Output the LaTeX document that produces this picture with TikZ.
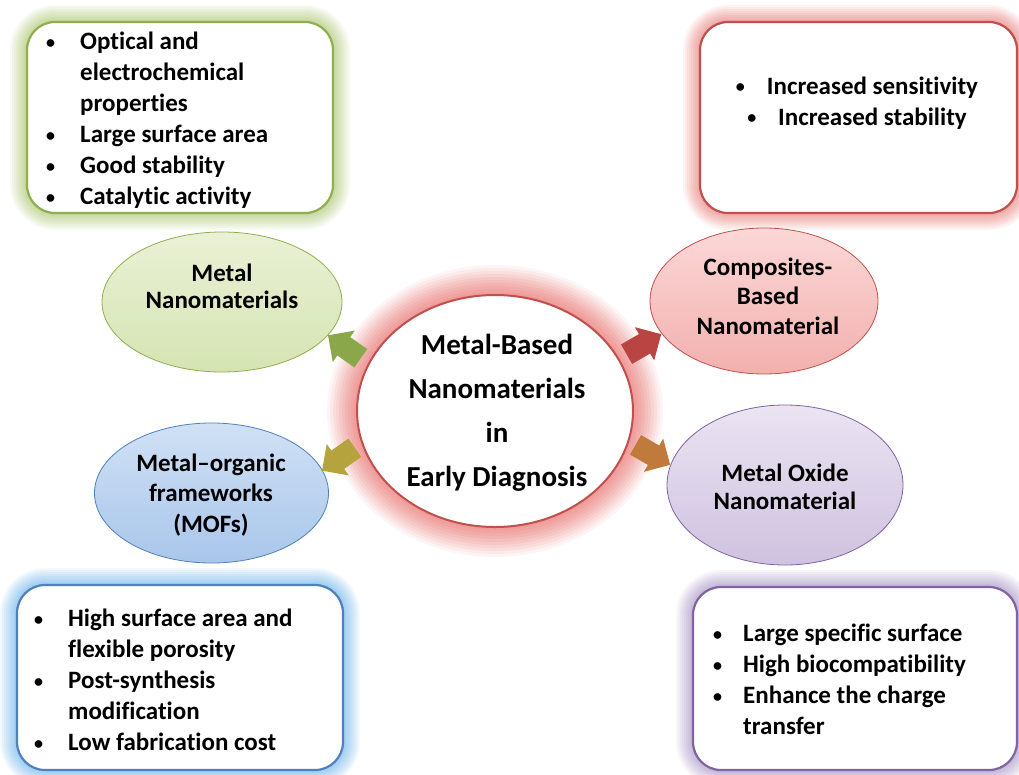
\documentclass[tikz,border=0pt]{standalone}
\usepackage{fontspec}
\setmainfont{Carlito}[Ligatures=NoCommon]
\usetikzlibrary{shapes.geometric,shapes.arrows}
\definecolor{grnB}{HTML}{8FAE4E}
\definecolor{grnG}{HTML}{B5CF80}
\definecolor{redB}{HTML}{C0504D}
\definecolor{redG}{HTML}{EE8A88}
\definecolor{bluB}{HTML}{4F81BD}
\definecolor{bluG}{HTML}{7DBDF0}
\definecolor{purB}{HTML}{8064A2}
\definecolor{purG}{HTML}{B3A0CF}
\definecolor{grnT}{HTML}{EAF1D5}
\definecolor{grnL}{HTML}{D5E4B3}
\definecolor{bluT}{HTML}{D0E1F5}
\definecolor{bluL}{HTML}{A9C6EA}
\definecolor{redT}{HTML}{FBD8D7}
\definecolor{redL}{HTML}{F2B0AE}
\definecolor{purT}{HTML}{EBE4F2}
\definecolor{purL}{HTML}{CFC2E0}
\definecolor{arGrn}{HTML}{8AA84A}
\definecolor{arOlv}{HTML}{B5A43E}
\definecolor{arRed}{HTML}{B94441}
\definecolor{arOrg}{HTML}{C07A3C}
\newcommand{\bul}[1]{\makebox[#1][l]{\raisebox{1.5pt}{\fontsize{18}{18}\selectfont•}}}
\newcommand{\cbul}{\raisebox{1.5pt}{\fontsize{18}{18}\selectfont•}}
\tikzset{
  glow/.style={
    preaction={draw=#1,line width=34,draw opacity=0.09},
    preaction={draw=#1,line width=30,draw opacity=0.1},
    preaction={draw=#1,line width=26,draw opacity=0.11},
    preaction={draw=#1,line width=22,draw opacity=0.12},
    preaction={draw=#1,line width=18,draw opacity=0.13},
    preaction={draw=#1,line width=14,draw opacity=0.14},
    preaction={draw=#1,line width=10,draw opacity=0.16},
    preaction={draw=#1,line width=6,draw opacity=0.2}},
  bigglow/.style={
    preaction={draw=#1,line width=60,draw opacity=0.08},
    preaction={draw=#1,line width=54,draw opacity=0.1},
    preaction={draw=#1,line width=48,draw opacity=0.12},
    preaction={draw=#1,line width=42,draw opacity=0.13},
    preaction={draw=#1,line width=36,draw opacity=0.15},
    preaction={draw=#1,line width=30,draw opacity=0.16},
    preaction={draw=#1,line width=24,draw opacity=0.18},
    preaction={draw=#1,line width=18,draw opacity=0.2},
    preaction={draw=#1,line width=12,draw opacity=0.22},
    preaction={draw=#1,line width=6,draw opacity=0.25}},
  infobox/.style 2 args={rectangle, rounded corners=28, draw=#1, line width=2.2,
    fill=white, glow=#2, inner sep=0},
  oval/.style n args={3}{ellipse, draw=#1, line width=0.8, top color=#2, bottom color=#3, inner sep=0},
  boxtxt/.style={font=\bfseries\fontsize{25}{31}\selectfont, inner sep=0, text=black},
  ovaltxt/.style={font=\bfseries\fontsize{25}{#1}\selectfont, align=center, inner sep=0, text=black},
  blockarrow/.style={single arrow, draw=none, fill=#1, minimum height=40, minimum width=38,
    text height=11, text depth=11, text width=0, inner sep=0, single arrow head extend=8}
}
\begin{document}
\begin{tikzpicture}[x=1pt,y=-1pt]
\useasboundingbox[fill=white] (0,0) rectangle (1019,774);

% boxes
\node[infobox={grnB}{grnG}, minimum width=306, minimum height=191] (boxTL) at (180,117.5) {};
\node[infobox={redB}{redG}, minimum width=317, minimum height=191] (boxTR) at (858.5,117.5) {};
\node[infobox={bluB}{bluG}, minimum width=326, minimum height=185] (boxBL) at (180,677.5) {};
\node[infobox={purB}{purG}, minimum width=324, minimum height=183] (boxBR) at (855,678.5) {};

\node[boxtxt, align=left, anchor=west] (tTL) at (46,120.5)
  {\bul{34pt}Optical and\\ \hspace*{34pt}electrochemical\\ \hspace*{34pt}properties\\
   \bul{34pt}Large surface area\\ \bul{34pt}Good stability\\ \bul{34pt}Catalytic activity};
\node[boxtxt, align=center] (tTR) at (857,103)
  {\cbul\hspace{22pt}Increased sensitivity\\ \cbul\hspace{22pt}Increased stability};
\node[boxtxt, align=left, anchor=west] (tBL) at (34,680)
  {\bul{34pt}High surface area and\\ \hspace*{34pt}flexible porosity\\
   \bul{34pt}Post-synthesis\\ \hspace*{34pt}modification\\ \bul{34pt}Low fabrication cost};
\node[boxtxt, align=left, anchor=west] (tBR) at (713,679.5)
  {\bul{30pt}Large specific surface\\ \bul{30pt}High biocompatibility\\
   \bul{30pt}Enhance the charge\\ \hspace*{30pt}transfer};

% ovals
\node[oval={grnB}{grnT}{grnL}, minimum width=240, minimum height=140] (oMetal) at (222,302) {};
\node[oval={bluB}{bluT}{bluL}, minimum width=234, minimum height=140] (oMOF) at (211.5,493) {};
\node[oval={redB}{redT}{redL}, minimum width=228, minimum height=146] (oComp) at (764,301) {};
\node[oval={purB}{purT}{purL}, minimum width=236, minimum height=160] (oOxide) at (785,485) {};

\node[ovaltxt=27] (lMetal) at (222,286) {Metal\\Nanomaterials};
\node[ovaltxt=30.5] (lMOF) at (211,495) {Metal–organic\\frameworks\\(MOFs)};
\node[ovaltxt=29.5] (lComp) at (768,296) {Composites-\\Based\\Nanomaterial};
\node[ovaltxt=28] (lOxide) at (785,486.5) {Metal Oxide\\Nanomaterial};

% centre
\node[ellipse, draw=redB, line width=2, fill=white, bigglow=redG,
  minimum width=276, minimum height=232, inner sep=0] (center) at (495,411) {};
\node[font=\bfseries\fontsize{29}{44}\selectfont, align=center, inner sep=0] (lCenter) at (497,412.5)
  {Metal-Based\\Nanomaterials\\in\\Early Diagnosis};

% arrows
\node[blockarrow=arGrn, rotate=145] (aMetal) at (349,350) {};
\node[blockarrow=arOlv, rotate=215] (aMOF) at (343,456) {};
\node[blockarrow=arRed, rotate=30] (aComp) at (639,347) {};
\node[blockarrow=arOrg, rotate=-30] (aOxide) at (648,452) {};
\end{tikzpicture}
\end{document}
